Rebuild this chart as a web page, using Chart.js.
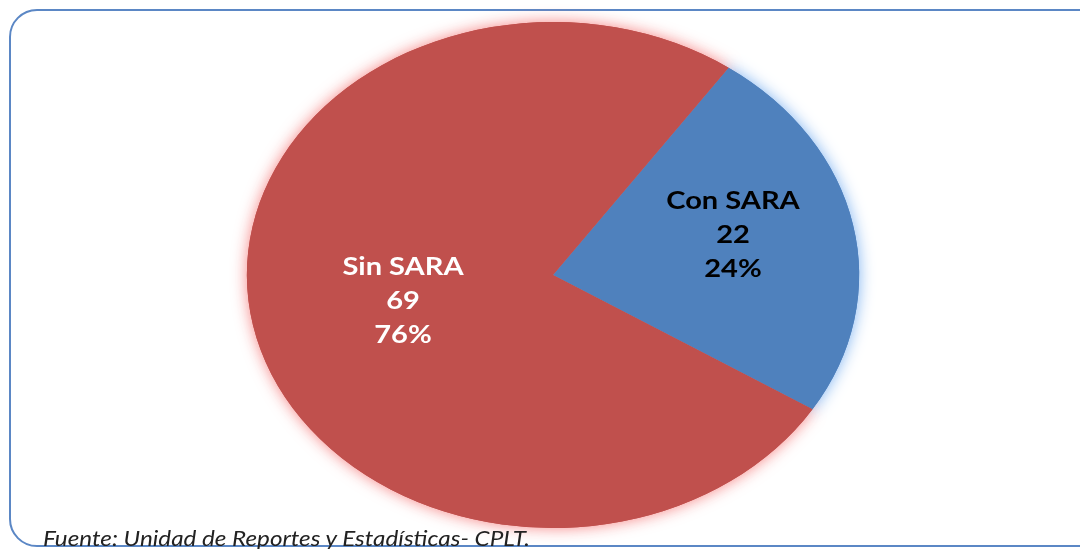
<!DOCTYPE html>
<html>
<head>
<meta charset="utf-8">
<script src="https://cdn.jsdelivr.net/npm/chart.js@4"></script>
<style>
  html, body { margin: 0; padding: 0; background: #fff; overflow: hidden; }
  #wrap { position: relative; width: 1080px; height: 549px; }
  #frame {
    position: absolute; left: 9px; top: 9px; width: 1100px; height: 538px;
    border: 2px solid #5b87c5; border-radius: 28px; box-sizing: border-box;
  }
  #chart { position: absolute; left: 0; top: 0; }
  #source {
    position: absolute; left: 43px; top: 527px;
    font-family: Lato, sans-serif; font-style: italic; font-size: 21px; line-height: 21px;
    color: #222; white-space: nowrap; transform-origin: 0 0;
  }
</style>
</head>
<body>
<div id="wrap">
  <div id="frame"></div>
  <canvas id="chart" width="1080" height="549"></canvas>
  <div id="source">Fuente: Unidad de Reportes y Estadísticas- CPLT.</div>
</div>
<script>
const labels = ["Con SARA", "Sin SARA"];
const counts = [22, 69];
const percents = ["24%", "76%"];

const colors = ["#4f81bd", "#c0504d"];
const glows = ["rgba(120,175,240,0.95)", "rgba(245,125,125,0.95)"];
const textColors = ["#000000", "#ffffff"];
const labelRadius = [0.6, 0.5];
const labelDy = [-10, 0];
const stretch = 1.21;

// the original picture is stretched sideways, so stretch the footer too
const src = document.getElementById("source");
src.style.transform = "scaleX(" + (487 / src.offsetWidth) + ")";

function squash(chart) {
  const a = chart.chartArea;
  const cx = (a.left + a.right) / 2;
  const cy = (a.top + a.bottom) / 2;
  const ctx = chart.ctx;
  ctx.translate(cx, cy);
  ctx.scale(stretch, 1);
  ctx.translate(-cx, -cy);
}

const ellipse = {
  id: "ellipse",
  beforeDatasetsDraw(chart) {
    const ctx = chart.ctx;
    ctx.save();
    squash(chart);
    // outer glow
    chart.getDatasetMeta(0).data.forEach((arc, i) => {
      ctx.save();
      ctx.shadowColor = glows[i];
      ctx.shadowBlur = 15;
      arc.draw(ctx);
      ctx.restore();
    });
  },
  afterDatasetsDraw(chart) {
    chart.ctx.restore();
    const ctx = chart.ctx;
    const a = chart.chartArea;
    const cx = (a.left + a.right) / 2;
    const cy = (a.top + a.bottom) / 2;
    ctx.save();
    ctx.font = "bold 24px Lato, sans-serif";
    ctx.textAlign = "center";
    ctx.textBaseline = "alphabetic";
    chart.getDatasetMeta(0).data.forEach((arc, i) => {
      const mid = (arc.startAngle + arc.endAngle) / 2;
      const r = arc.outerRadius * labelRadius[i];
      const x = cx + Math.cos(mid) * r * stretch;
      const y = cy + Math.sin(mid) * r + labelDy[i];
      ctx.fillStyle = textColors[i];
      const lines = [labels[i], String(counts[i]), percents[i]];
      ctx.save();
      ctx.translate(x, y);
      ctx.scale(stretch, 1);
      lines.forEach((t, j) => ctx.fillText(t, 0, (j - 1) * 34 + 8.5));
      ctx.restore();
    });
    ctx.restore();
  }
};

new Chart(document.getElementById("chart"), {
  type: "pie",
  data: {
    labels: labels,
    datasets: [{
      data: counts,
      backgroundColor: colors,
      borderWidth: 0
    }]
  },
  options: {
    responsive: false,
    animation: false,
    rotation: 35,
    layout: { padding: { left: 300, right: 274, top: 22, bottom: 21 } },
    plugins: {
      legend: { display: false },
      tooltip: { enabled: false }
    }
  },
  plugins: [ellipse]
});
</script>
</body>
</html>
